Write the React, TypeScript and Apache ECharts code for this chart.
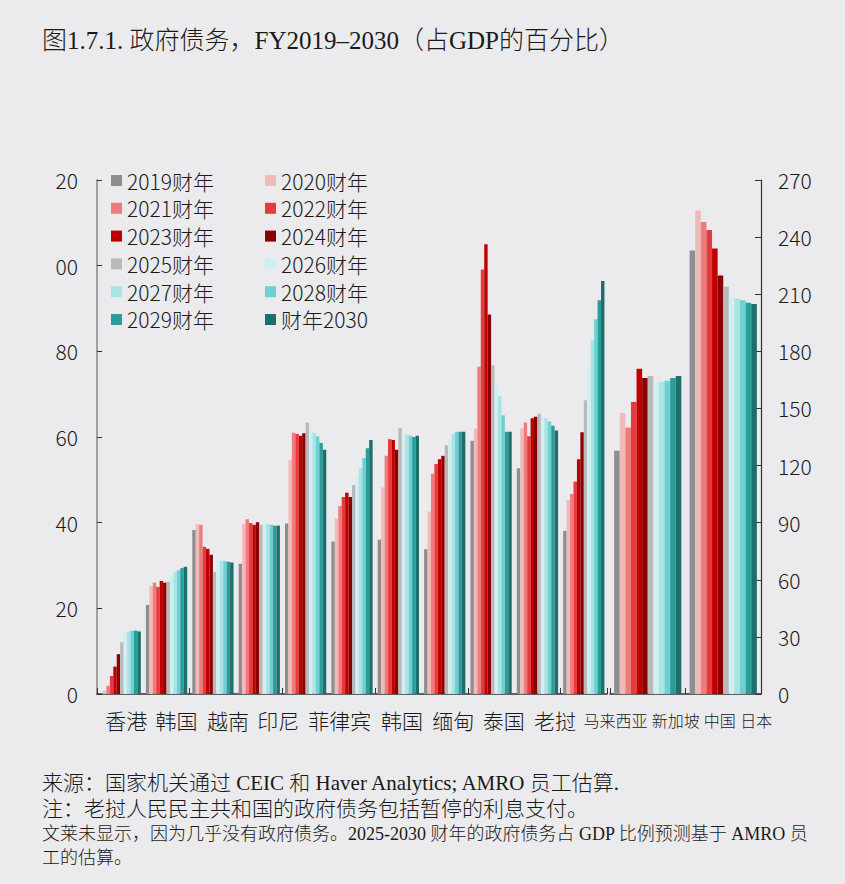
import React, { useEffect, useRef } from "react";
import * as echarts from "echarts";

const categories = ["香港", "韩国", "越南", "印尼", "菲律宾", "韩国", "缅甸", "泰国", "老挝", "马来西亚", "新加坡", "中国", "日本"];
const leftCount = 11; // first 11 on left axis, last 2 on right axis

const seriesNames = ["2019财年", "2020财年", "2021财年", "2022财年", "2023财年", "2024财年", "2025财年", "2026财年", "2027财年", "2028财年", "2029财年", "财年2030"];
const colors = ["#8e8e90", "#f2b9bb", "#ef7b7b", "#e8393e", "#c00000", "#8b0000", "#b9b9bb", "#cfeff0", "#a8e3e5", "#6dd0d3", "#2a9d99", "#1e6e6c"];

const y2019 = [0.1, 20.8, 38.3, 30.4, 39.8, 35.6, 36.0, 33.8, 59.1, 52.7, 38.1, 127.8, 233.0];
const y2020 = [0.8, 25.2, 39.7, 39.7, 54.6, 41.0, 48.2, 42.6, 62.0, 62.0, 45.3, 147.6, 254.0];
const y2021 = [1.9, 26.0, 39.5, 40.8, 61.0, 43.9, 55.6, 51.4, 76.4, 63.4, 46.7, 140.0, 248.0];
const y2022 = [4.2, 25.0, 34.4, 39.9, 60.7, 46.0, 59.5, 53.7, 99.1, 60.2, 49.6, 153.4, 243.8];
const y2023 = [6.4, 26.4, 33.9, 39.5, 60.3, 47.0, 59.3, 54.8, 105.0, 64.4, 54.8, 170.8, 234.0];
const y2024 = [9.3, 26.0, 32.5, 40.1, 60.9, 46.0, 57.0, 55.6, 88.6, 64.7, 61.1, 166.0, 219.8];
const y2025 = [12.1, 26.2, 28.5, 39.5, 63.4, 48.8, 62.1, 58.1, 76.8, 65.4, 68.6, 167.0, 214.0];
const y2026 = [14.2, 27.8, 31.1, 39.8, 61.8, 50.7, 60.5, 59.7, 72.5, 64.7, 76.4, 164.1, 208.5];
const y2027 = [14.6, 28.5, 31.1, 39.7, 61.0, 52.7, 60.5, 60.8, 69.6, 64.4, 82.6, 164.0, 207.7];
const y2028 = [14.8, 28.9, 31.0, 39.5, 60.1, 55.1, 60.3, 61.2, 65.1, 63.6, 87.5, 164.6, 206.8];
const y2029 = [14.8, 29.4, 30.9, 39.3, 58.6, 57.4, 60.0, 61.2, 61.2, 62.6, 91.9, 166.0, 205.5];
const y2030 = [14.6, 29.7, 30.7, 39.3, 57.0, 59.3, 60.3, 61.2, 61.2, 61.5, 96.4, 167.0, 204.8];
const yearValues = [y2019, y2020, y2021, y2022, y2023, y2024, y2025, y2026, y2027, y2028, y2029, y2030];

const titleText = "图1.7.1. 政府债务，FY2019–2030（占GDP的百分比）";
const noteLines = [
  "来源：国家机关通过 CEIC 和 Haver Analytics; AMRO 员工估算.",
  "注：老挝人民民主共和国的政府债务包括暂停的利息支付。",
  "文莱未显示，因为几乎没有政府债务。2025-2030 财年的政府债务占 GDP 比例预测基于 AMRO 员",
  "工的估算。",
];

// layout: horizontal shift of each category label from its band centre, and its font size
const labelShift = [6, 10, 15, 19, 34, 50, 55, 59, 64, 78, 92, 72, 33];
const labelSize = [21, 21, 21, 21, 21, 21, 21, 21, 21, 16, 16, 16, 16];

const SANS = '"Noto Sans CJK SC", "Noto Sans", sans-serif';
const SERIF = '"Liberation Serif", "Noto Sans CJK SC", serif';
const TEXT = "#1a1a1a";

export default function App() {
  const ref = useRef<HTMLDivElement>(null);
  useEffect(() => {
    if (!ref.current) return;
    const chart = echarts.init(ref.current, undefined, { renderer: "svg" });
    const leftCats = categories.slice(0, leftCount);
    const rightCats = categories.slice(leftCount);

    const series: any[] = [];
    seriesNames.forEach((name, i) => {
      series.push({
        name,
        type: "bar",
        xAxisIndex: 0,
        yAxisIndex: 0,
        data: yearValues[i].slice(0, leftCount),
        itemStyle: { color: colors[i] },
        barGap: "0%",
        barCategoryGap: "11%",
      });
      series.push({
        name,
        type: "bar",
        xAxisIndex: 1,
        yAxisIndex: 1,
        data: yearValues[i].slice(leftCount),
        itemStyle: { color: colors[i] },
        barGap: "0%",
        barCategoryGap: "11%",
      });
    });

    const legendCommon = {
      orient: "vertical",
      top: 170,
      padding: 0,
      itemGap: 6.8,
      itemWidth: 11,
      itemHeight: 11,
      icon: "rect",
      selectedMode: false,
      textStyle: { fontSize: 21, lineHeight: 20, color: TEXT, fontFamily: SANS, fontWeight: 300 },
    };

    const xAxisCommon = {
      type: "category",
      axisLine: { show: true, lineStyle: { color: "#333", width: 1.5 } },
      axisTick: { show: true, inside: true, length: 6, lineStyle: { color: "#333" } },
      axisLabel: { show: false },
      splitLine: { show: false },
    };

    chart.setOption({
      animation: false,
      backgroundColor: "#ebebed",
      textStyle: { fontFamily: SANS },
      legend: [
        { ...legendCommon, left: 111, data: seriesNames.filter((_, i) => i % 2 === 0) },
        { ...legendCommon, left: 265, data: seriesNames.filter((_, i) => i % 2 === 1) },
      ],
      grid: [
        { left: 97, right: 238, top: 180, bottom: 190, containLabel: false },
        { left: 610, right: 84, top: 180, bottom: 190, containLabel: false },
      ],
      xAxis: [
        { ...xAxisCommon, gridIndex: 0, data: leftCats },
        { ...xAxisCommon, gridIndex: 1, data: rightCats },
      ],
      yAxis: [
        {
          type: "value",
          gridIndex: 0,
          position: "left",
          min: 0,
          max: 120,
          interval: 20,
          axisLine: { show: true, lineStyle: { color: "#a0a0a2", width: 2 } },
          axisTick: { show: true, inside: true, length: 5, lineStyle: { color: "#333" } },
          axisLabel: {
            fontSize: 21,
            color: TEXT,
            fontFamily: SANS,
            fontWeight: 300,
            margin: 19,
            formatter: (v: number) => (v >= 100 ? String(v).slice(-2) : String(v)),
          },
          splitLine: { show: false },
        },
        {
          type: "value",
          gridIndex: 1,
          position: "right",
          min: 0,
          max: 270,
          interval: 30,
          axisLine: { show: true, lineStyle: { color: "#333", width: 1.2 } },
          axisTick: { show: true, inside: true, length: 6, lineStyle: { color: "#333" } },
          axisLabel: { fontSize: 21, color: TEXT, fontFamily: SANS, fontWeight: 300, margin: 17 },
          splitLine: { show: false },
        },
      ],
      series,
    });

    // category labels, placed from the axes' own band centres
    const baseY = chart.convertToPixel({ yAxisIndex: 0 }, 0) as number;
    const catLabels = categories.map((c, i) => {
      const axisIdx = i < leftCount ? 0 : 1;
      const local = i < leftCount ? i : i - leftCount;
      const cx = (chart.convertToPixel({ xAxisIndex: axisIdx }, local) as number) + labelShift[i];
      return {
        type: "text",
        id: "cat" + i,
        x: cx,
        y: baseY + 26,
        style: {
          text: c,
          fontSize: labelSize[i],
          fontFamily: SANS,
          fontWeight: 300,
          fill: TEXT,
          align: "center",
          verticalAlign: "middle",
        },
      };
    });

    chart.setOption({
      graphic: [
        {
          type: "text",
          id: "title",
          left: 42,
          top: 28,
          style: { text: titleText, fontSize: 25, fontFamily: SERIF, fontWeight: 300, fill: TEXT },
        },
        { type: "text", id: "n0", left: 42, top: 772, style: { text: noteLines[0], fontSize: 21, fontFamily: SERIF, fontWeight: 300, fill: TEXT } },
        { type: "text", id: "n1", left: 42, top: 798, style: { text: noteLines[1], fontSize: 21, fontFamily: SERIF, fontWeight: 300, fill: TEXT } },
        { type: "text", id: "n2", left: 42, top: 825, style: { text: noteLines[2], fontSize: 18, fontFamily: SERIF, fontWeight: 300, fill: TEXT } },
        { type: "text", id: "n3", left: 42, top: 849, style: { text: noteLines[3], fontSize: 18, fontFamily: SERIF, fontWeight: 300, fill: TEXT } },
        ...catLabels,
      ],
    });
    return () => chart.dispose();
  }, []);
  return (
    <div
      ref={ref}
      style={{ position: "fixed", left: 0, top: 0, width: 845, height: 884 }}
    />
  );
}
